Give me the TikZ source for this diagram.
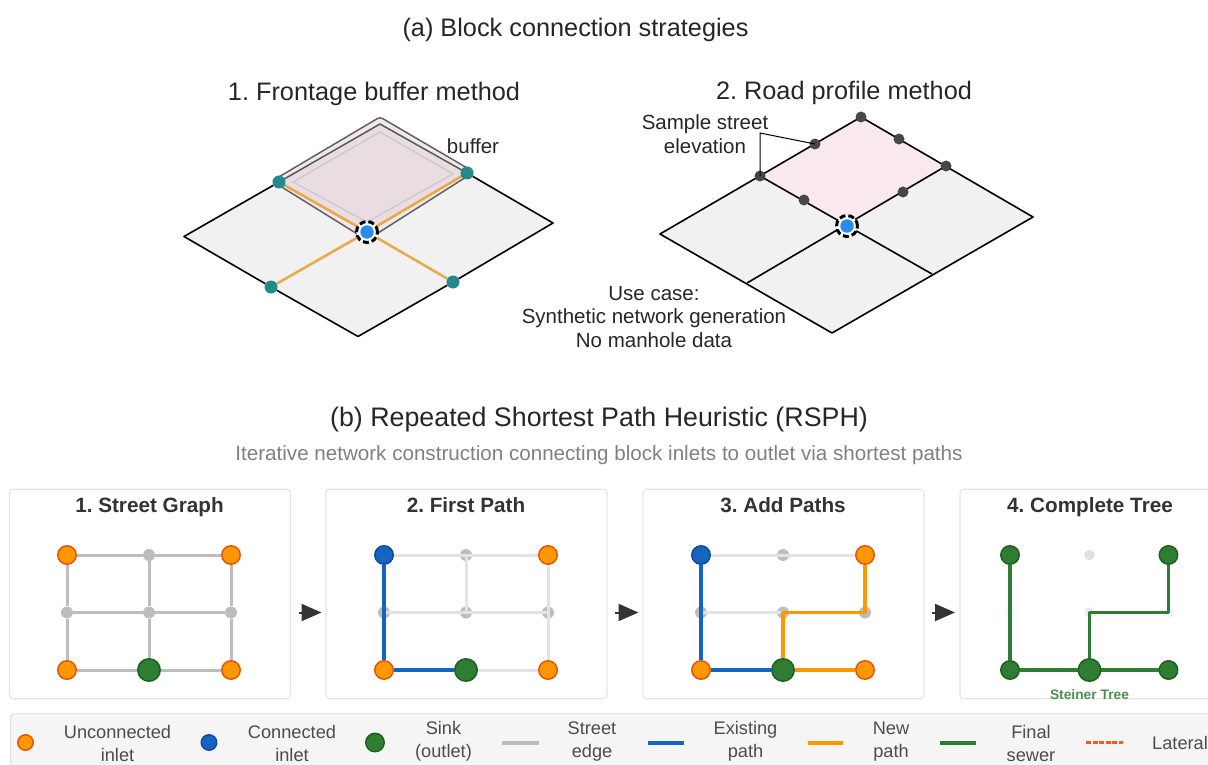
\documentclass[tikz,border=0pt]{standalone}
\usepackage{fontspec}
\setmainfont{Liberation Sans}
\usetikzlibrary{arrows.meta, positioning}
\definecolor{inletOrange}{HTML}{FF9800}
\definecolor{inletEdge}{HTML}{E65100}
\definecolor{pathBlue}{HTML}{1565C0}
\definecolor{pathBlueDk}{HTML}{0D47A1}
\definecolor{sinkGreen}{HTML}{2E7D32}
\definecolor{sinkGreenDk}{HTML}{1B5E20}
\definecolor{streetGray}{HTML}{BDBDBD}
\definecolor{fadedGray}{HTML}{E3E3E3}
\definecolor{blockGray}{HTML}{F1F1F1}
\definecolor{tealDot}{HTML}{23898A}
\definecolor{hubBlue}{HTML}{2B8CEB}
\definecolor{laneOrange}{HTML}{E9A948}
\definecolor{lateralRed}{HTML}{FF5722}
\definecolor{bufferBand}{HTML}{F2E8EB}
\definecolor{bufferFill}{HTML}{E9DDE1}
\definecolor{blockPink}{HTML}{F9E9ED}
\tikzset{
    every node/.style={inner sep=0pt, align=center, text=black!85},
    heading/.style={font=\fontsize{25.3}{30}\selectfont, anchor=base},
    note/.style={font=\fontsize{20.5}{23.6}\selectfont},
    panel/.style={draw=black!10, line width=1.2pt, fill=white, rounded corners=3.5pt, minimum width=281pt, minimum height=209.5pt},
    paneltitle/.style={font=\fontsize{20.7}{24}\selectfont\bfseries, text=black!80, anchor=base},
    inlet/.style={circle, fill=inletOrange, draw=inletEdge, line width=1.4pt, minimum size=18.5pt},
    linked/.style={inlet, fill=pathBlue, draw=pathBlueDk},
    sink/.style={circle, fill=sinkGreen, draw=sinkGreenDk, line width=1.4pt, minimum size=22.5pt},
    done/.style={sink, minimum size=18.5pt},
    junction/.style={circle, fill=streetGray, minimum size=12pt},
    paledot/.style={circle, fill=black!12, minimum size=10.5pt},
    street/.style={streetGray, line width=3pt},
    faded/.style={fadedGray, line width=3pt},
    existing/.style={pathBlue, line width=3.8pt},
    newpath/.style={inletOrange, line width=3.8pt, line join=round},
    sewer/.style={sinkGreen, line width=3.8pt, line join=round},
    block/.style={black, line width=1.6pt, line join=round},
    lane/.style={laneOrange, line width=2.5pt},
    tap/.style={circle, fill=tealDot, minimum size=13pt},
    sample/.style={circle, fill=black!72, minimum size=11pt},
    hubring/.style={circle, draw=black, fill=white, line width=3pt, dash pattern=on 6pt off 3pt, minimum size=21pt},
    hub/.style={circle, fill=hubBlue, minimum size=13.5pt},
    steparrow/.style={-{Triangle[length=20pt,width=17pt]}, black!80, line width=2pt},
    legendbox/.style={draw=black!10, line width=1.2pt, fill=black!4, rounded corners=3.5pt},
    legendtext/.style={font=\fontsize{18.2}{23}\selectfont, text=black!70},
    legendline/.style={line width=4pt},
}
\begin{document}
\frenchspacing
\begin{tikzpicture}[x=1pt, y=-1pt, node distance=82pt, on grid]
    \useasboundingbox (0,0) rectangle (1208,765);
    \clip (0,0) rectangle (1208,765);

    \node[heading] (titleA) at (575.5,37) {(a) Block connection strategies};
    \node[heading] (titleF) at (374,100.5) {1. Frontage buffer method};
    \node[heading] (titleR) at (844,100) {2. Road profile method};

    %frontage buffer
    \coordinate (fL) at (184,236.5);
    \coordinate (fB) at (358,336.5);
    \coordinate (fR) at (553,223);
    \coordinate (fT) at (380,124);
    \coordinate (fC) at (367,232);
    \coordinate (fTL) at (279,182);
    \coordinate (fTR) at (467,173);
    \fill[blockGray] (fL) -- (fB) -- (fR) -- (fT) -- cycle;
    \draw[black!62, line width=1.5pt, fill=bufferBand, rounded corners=3pt] (380,117) -- (474,172) -- (367,240) -- (272,181) -- cycle;
    \draw[black!65, line width=1.5pt, fill=bufferFill] (fTL) -- (fT) -- (fTR) -- (fC) -- cycle;
    \draw[black!20, line width=1.4pt] (380,132) -- (453,174) -- (367,222) -- (293,182) -- cycle;
    \node[tap] (q1) at (fTL) {};
    \node[tap] (q2) at (fTR) {};
    \node[tap] (q3) at (271,287) {};
    \node[tap] (q4) at (453,282) {};
    \node[hubring] (ring1) at (fC) {};
    \node[hub] (hub1) at (fC) {};
    \draw[block] (q1) -- (fL) -- (q3) -- (fB) -- (q4) -- (fR) -- (q2);
    \path[lane] (ring1) edge (q1) (ring1) edge (q2) (ring1) edge (q3) (ring1) edge (q4);
    \node[note] (bufferlabel) at (473,146) {buffer};

    %road profile
    \coordinate (rL) at (660,234);
    \coordinate (rB) at (832,333);
    \coordinate (rR) at (1033,217);
    \coordinate (rC) at (847,226);
    \coordinate (rBL) at (747,283);
    \coordinate (rBR) at (932,274);
    \coordinate (lead) at (760,133);
    \fill[blockGray] (rL) -- (rB) -- (rR) -- (861,117) -- cycle;
    \fill[blockPink] (760,176) -- (861,117) -- (946,166) -- (rC) -- cycle;
    \draw[block] (rL) -- (rB) -- (rR) -- (861,117) -- cycle;
    \draw[block] (760,176) -- (rBR) (946,166) -- (rBL);
    \node[sample] (s1) at (760,176) {};
    \node[sample] (s2) at (815,144) {};
    \node[sample] (s3) at (861,117) {};
    \node[sample] (s4) at (899,139) {};
    \node[sample] (s5) at (946,166) {};
    \node[sample] (s6) at (903,192) {};
    \node[sample] (s7) at (804,200) {};
    \node[hubring] (ring2) at (rC) {};
    \node[hub] (hub2) at (rC) {};
    \draw[black, line width=1pt] (s1.center) -- (lead) -- (s2.center);
    \node[note] (samplelabel) at (705,134) {Sample street\\elevation};
    \node[note] (usecase) at (654,317) {Use case:\\Synthetic network generation\\No manhole data};

    \node[heading, font=\fontsize{26.8}{30}\selectfont] (titleB) at (599,426) {(b) Repeated Shortest Path Heuristic (RSPH)};
    \node[font=\fontsize{20.6}{24}\selectfont, text=black!50, anchor=base] (subtitle) at (599,460) {Iterative network construction connecting block inlets to outlet via shortest paths};

    \node[panel] (p1) at (150,594) {};
    \node[panel] (p2) at (466.5,594) {};
    \node[panel] (p3) at (783.5,594) {};
    \node[panel] (p4) at (1100.5,594) {};
    \node[paneltitle] (t1) at (149.5,512) {1. Street Graph};
    \node[paneltitle] (t2) at (466,512) {2. First Path};
    \node[paneltitle] (t3) at (783,512) {3. Add Paths};
    \node[paneltitle] (t4) at (1090,512) {4. Complete Tree};

    %panel 1
    \node[inlet] (a1) at (67,555) {};
    \node[junction] (a2) [right=of a1] {};
    \node[inlet] (a3) [right=of a2] {};
    \node[junction] (a4) [below=57.5pt of a1] {};
    \node[junction] (a5) [right=of a4] {};
    \node[junction] (a6) [right=of a5] {};
    \node[inlet] (a7) [below=57.5pt of a4] {};
    \node[sink] (a8) [right=of a7] {};
    \node[inlet] (a9) [right=of a8] {};
    \path[street] (a1) edge (a2) (a2) edge (a3) (a4) edge (a5) (a5) edge (a6)
              (a7) edge (a8) (a8) edge (a9)
              (a1) edge (a4) (a4) edge (a7) (a2) edge (a5) (a5) edge (a8)
              (a3) edge (a6) (a6) edge (a9);

    %panel 2
    \node[linked] (b1) at (384,555) {};
    \node[junction] (b2) [right=of b1] {};
    \node[inlet] (b3) [right=of b2] {};
    \node[junction] (b4) [below=57.5pt of b1] {};
    \node[junction] (b5) [right=of b4] {};
    \node[junction] (b6) [right=of b5] {};
    \node[inlet] (b7) [below=57.5pt of b4] {};
    \node[sink] (b8) [right=of b7] {};
    \node[inlet] (b9) [right=of b8] {};
    \path[faded] (b1) edge (b3) (b4.center) edge (b6.center) (b2.center) edge (b5.center)
              (b3) edge (b9) (b8) edge (b9);
    \path[existing] (b1) edge (b7) (b7) edge (b8);

    %panel 3
    \node[linked] (c1) at (701,555) {};
    \node[junction] (c2) [right=of c1] {};
    \node[inlet] (c3) [right=of c2] {};
    \node[junction] (c4) [below=57.5pt of c1] {};
    \node[junction] (c5) [right=of c4] {};
    \node[junction] (c6) [right=of c5] {};
    \node[inlet] (c7) [below=57.5pt of c4] {};
    \node[sink] (c8) [right=of c7] {};
    \node[inlet] (c9) [right=of c8] {};
    \path[faded] (c1) edge (c3) (c4.center) edge (c5.center);
    \path[existing] (c1) edge (c7) (c7) edge (c8);
    \draw[newpath] (c8) -- (c5.center) -- (c6.center) -- (c3);
    \path[newpath] (c8) edge (c9);

    %panel 4
    \node[done] (d1) at (1010,555) {};
    \node[paledot] (d2) at (1089.5,555) {};
    \node[done] (d3) at (1168.5,555) {};
    \node[paledot, opacity=0.35] (d4) at (1010,612.5) {};
    \node[paledot, opacity=0.6] (d5) at (1089.5,612.5) {};
    \node[paledot, opacity=0.35] (d6) at (1168.5,612.5) {};
    \node[done] (d7) at (1010,670) {};
    \node[sink] (d8) at (1089.5,670) {};
    \node[done] (d9) at (1168.5,670) {};
    \path[sewer] (d1) edge (d7) (d7) edge (d8) (d8) edge (d9);
    \draw[sewer] (d8) -- (d5.center) -- (d6.center) -- (d3);
    \node[font=\fontsize{13.8}{16}\selectfont\bfseries, text=sinkGreen!85!white] (steiner) at (1089.5,694.5) {Steiner Tree};

    %arrows between panels
    \coordinate (e1) at (298.5,612.5);
    \coordinate (e2) at (321.5,612.5);
    \coordinate (e3) at (615,612.5);
    \coordinate (e4) at (638.5,612.5);
    \coordinate (e5) at (932,612.5);
    \coordinate (e6) at (955,612.5);
    \draw[steparrow] (e1) -- (e2);
    \draw[steparrow] (e3) -- (e4);
    \draw[steparrow] (e5) -- (e6);

    %legend
    \node[legendbox, minimum width=1240pt, minimum height=80pt, anchor=north west] (legend) at (10,713) {};
    \node[inlet, minimum size=15.5pt] (k1) at (25.5,742.5) {};
    \node[linked, minimum size=15.5pt] (k2) at (209,742.5) {};
    \node[sink, minimum size=18.5pt] (k3) at (375,742.5) {};
    \coordinate (l1a) at (502,742.5);
    \coordinate (l1b) at (538.5,742.5);
    \coordinate (l2a) at (647.5,742.5);
    \coordinate (l2b) at (684,742.5);
    \coordinate (l3a) at (807.5,742.5);
    \coordinate (l3b) at (843,742.5);
    \coordinate (l4a) at (940,742.5);
    \coordinate (l4b) at (976,742.5);
    \coordinate (l5a) at (1086,742.5);
    \coordinate (l5b) at (1123,742.5);
    \draw[legendline, streetGray] (l1a) -- (l1b);
    \draw[legendline, pathBlue] (l2a) -- (l2b);
    \draw[legendline, inletOrange] (l3a) -- (l3b);
    \draw[legendline, sinkGreen] (l4a) -- (l4b);
    \draw[lateralRed, line width=2.6pt, dash pattern=on 5pt off 1.6pt] (l5a) -- (l5b);
    \node[legendtext] (n1) at (117.5,743.5) {Unconnected\\inlet};
    \node[legendtext] (n2) at (292,743.5) {Connected\\inlet};
    \node[legendtext] (n3) at (443.5,741.5) {Sink\\(outlet)};
    \node[legendtext] (n4) at (592,741.5) {Street\\edge};
    \node[legendtext] (n5) at (745.5,741.5) {Existing\\path};
    \node[legendtext] (n6) at (891,741.5) {New\\path};
    \node[legendtext] (n7) at (1031,743.5) {Final\\sewer};
    \node[legendtext, anchor=west] (n8) at (1152,743) {Lateral};
\end{tikzpicture}
\end{document}
